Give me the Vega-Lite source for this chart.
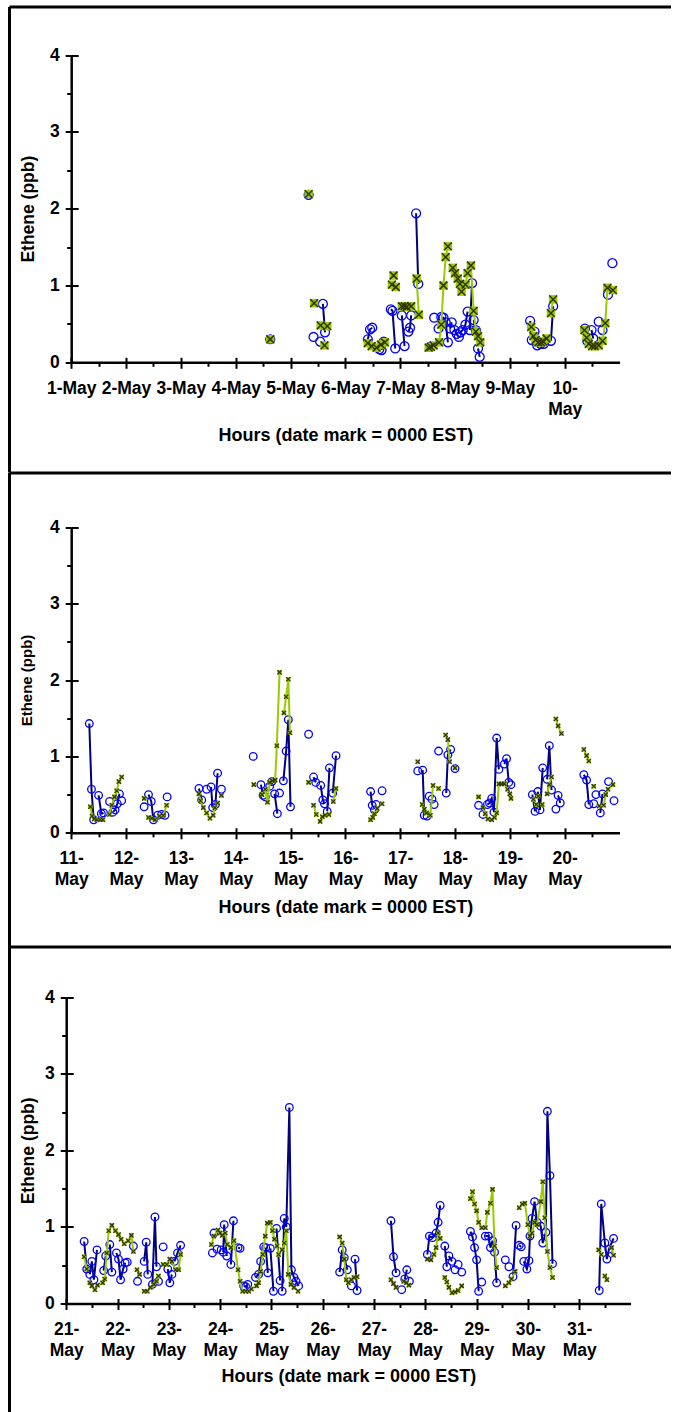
{
  "$schema": "https://vega.github.io/schema/vega-lite/v6.json",
  "padding": {"left": 9, "top": 6.5, "right": 0, "bottom": 0},
  "spacing": 0,
  "config": {
    "view": {"stroke": null},
    "font": "Liberation Sans",
    "axis": {
      "labelFont": "Liberation Sans", "labelFontSize": 17.5, "labelFontWeight": "bold", "labelColor": "black",
      "titleFont": "Liberation Sans", "titleFontSize": 18, "titleFontWeight": "bold", "titleColor": "black",
      "tickColor": "black", "tickWidth": 2, "domainColor": "black", "domainWidth": 2.5,
      "grid": false, "labelFlush": false, "labelOverlap": false
    }
  },
  "datasets": {
    "p1": [
      {"day":4.63,"ppb":0.30,"series":"A","seg":"a1"},
      {"day":5.33,"ppb":2.18,"series":"A","seg":"a2"},
      {"day":5.42,"ppb":0.33,"series":"A","seg":"a3"},
      {"day":5.54,"ppb":0.27,"series":"A","seg":"a4"},
      {"day":5.59,"ppb":0.76,"series":"A","seg":"a5"},
      {"day":5.63,"ppb":0.39,"series":"A","seg":"a5"},
      {"day":6.41,"ppb":0.30,"series":"A","seg":"a6"},
      {"day":6.45,"ppb":0.43,"series":"A","seg":"a6"},
      {"day":6.49,"ppb":0.45,"series":"A","seg":"a6"},
      {"day":6.62,"ppb":0.17,"series":"A","seg":"a7"},
      {"day":6.66,"ppb":0.16,"series":"A","seg":"a8"},
      {"day":6.70,"ppb":0.27,"series":"A","seg":"a8"},
      {"day":6.83,"ppb":0.69,"series":"A","seg":"a9"},
      {"day":6.86,"ppb":0.67,"series":"A","seg":"a9"},
      {"day":6.91,"ppb":0.18,"series":"A","seg":"a9"},
      {"day":7.03,"ppb":0.61,"series":"A","seg":"a10"},
      {"day":7.08,"ppb":0.21,"series":"A","seg":"a10"},
      {"day":7.15,"ppb":0.40,"series":"A","seg":"a11"},
      {"day":7.18,"ppb":0.45,"series":"A","seg":"a11"},
      {"day":7.20,"ppb":0.61,"series":"A","seg":"a11"},
      {"day":7.29,"ppb":1.94,"series":"A","seg":"a12"},
      {"day":7.33,"ppb":1.02,"series":"A","seg":"a12"},
      {"day":7.55,"ppb":0.20,"series":"A","seg":"a13"},
      {"day":7.62,"ppb":0.58,"series":"A","seg":"a14"},
      {"day":7.70,"ppb":0.44,"series":"A","seg":"a15"},
      {"day":7.75,"ppb":0.59,"series":"A","seg":"a16"},
      {"day":7.79,"ppb":0.58,"series":"A","seg":"a16"},
      {"day":7.83,"ppb":0.52,"series":"A","seg":"a16"},
      {"day":7.87,"ppb":0.26,"series":"A","seg":"a16"},
      {"day":7.91,"ppb":0.44,"series":"A","seg":"a17"},
      {"day":7.94,"ppb":0.52,"series":"A","seg":"a17"},
      {"day":7.99,"ppb":0.42,"series":"A","seg":"a18"},
      {"day":8.03,"ppb":0.37,"series":"A","seg":"a18"},
      {"day":8.07,"ppb":0.33,"series":"A","seg":"a18"},
      {"day":8.10,"ppb":0.39,"series":"A","seg":"a19"},
      {"day":8.14,"ppb":0.42,"series":"A","seg":"a19"},
      {"day":8.19,"ppb":0.49,"series":"A","seg":"a19"},
      {"day":8.23,"ppb":0.66,"series":"A","seg":"a19"},
      {"day":8.27,"ppb":0.42,"series":"A","seg":"a20"},
      {"day":8.31,"ppb":1.03,"series":"A","seg":"a20"},
      {"day":8.34,"ppb":0.55,"series":"A","seg":"a21"},
      {"day":8.38,"ppb":0.42,"series":"A","seg":"a21"},
      {"day":8.42,"ppb":0.18,"series":"A","seg":"a22"},
      {"day":8.45,"ppb":0.07,"series":"A","seg":"a22"},
      {"day":9.37,"ppb":0.54,"series":"A","seg":"a23"},
      {"day":9.40,"ppb":0.29,"series":"A","seg":"a23"},
      {"day":9.45,"ppb":0.40,"series":"A","seg":"a24"},
      {"day":9.50,"ppb":0.22,"series":"A","seg":"a25"},
      {"day":9.56,"ppb":0.24,"series":"A","seg":"a26"},
      {"day":9.62,"ppb":0.24,"series":"A","seg":"a27"},
      {"day":9.75,"ppb":0.28,"series":"A","seg":"a28"},
      {"day":9.79,"ppb":0.73,"series":"A","seg":"a28"},
      {"day":10.37,"ppb":0.44,"series":"A","seg":"a29"},
      {"day":10.41,"ppb":0.28,"series":"A","seg":"a29"},
      {"day":10.49,"ppb":0.42,"series":"A","seg":"a30"},
      {"day":10.52,"ppb":0.31,"series":"A","seg":"a30"},
      {"day":10.62,"ppb":0.53,"series":"A","seg":"a31"},
      {"day":10.69,"ppb":0.42,"series":"A","seg":"a32"},
      {"day":10.79,"ppb":0.88,"series":"A","seg":"a33"},
      {"day":10.87,"ppb":1.29,"series":"A","seg":"a34"},
      {"day":4.63,"ppb":0.30,"series":"B","seg":"b1"},
      {"day":5.33,"ppb":2.19,"series":"B","seg":"b2"},
      {"day":5.43,"ppb":0.77,"series":"B","seg":"b3"},
      {"day":5.55,"ppb":0.48,"series":"B","seg":"b4"},
      {"day":5.62,"ppb":0.22,"series":"B","seg":"b5"},
      {"day":5.67,"ppb":0.47,"series":"B","seg":"b6"},
      {"day":6.41,"ppb":0.25,"series":"B","seg":"b7"},
      {"day":6.48,"ppb":0.21,"series":"B","seg":"b7"},
      {"day":6.57,"ppb":0.19,"series":"B","seg":"b7"},
      {"day":6.65,"ppb":0.23,"series":"B","seg":"b7"},
      {"day":6.72,"ppb":0.26,"series":"B","seg":"b7"},
      {"day":6.85,"ppb":1.01,"series":"B","seg":"b8"},
      {"day":6.88,"ppb":1.13,"series":"B","seg":"b9"},
      {"day":6.92,"ppb":0.98,"series":"B","seg":"b10"},
      {"day":7.03,"ppb":0.73,"series":"B","seg":"b11"},
      {"day":7.08,"ppb":0.73,"series":"B","seg":"b11"},
      {"day":7.12,"ppb":0.72,"series":"B","seg":"b11"},
      {"day":7.20,"ppb":0.73,"series":"B","seg":"b11"},
      {"day":7.30,"ppb":1.09,"series":"B","seg":"b12"},
      {"day":7.34,"ppb":0.62,"series":"B","seg":"b12"},
      {"day":7.52,"ppb":0.19,"series":"B","seg":"b13"},
      {"day":7.56,"ppb":0.20,"series":"B","seg":"b13"},
      {"day":7.61,"ppb":0.22,"series":"B","seg":"b13"},
      {"day":7.71,"ppb":0.26,"series":"B","seg":"b14"},
      {"day":7.75,"ppb":0.49,"series":"B","seg":"b14"},
      {"day":7.79,"ppb":1.00,"series":"B","seg":"b14"},
      {"day":7.83,"ppb":1.37,"series":"B","seg":"b14"},
      {"day":7.87,"ppb":1.51,"series":"B","seg":"b14"},
      {"day":7.96,"ppb":1.23,"series":"B","seg":"b15"},
      {"day":8.00,"ppb":1.16,"series":"B","seg":"b15"},
      {"day":8.05,"ppb":1.09,"series":"B","seg":"b15"},
      {"day":8.09,"ppb":1.02,"series":"B","seg":"b15"},
      {"day":8.12,"ppb":0.92,"series":"B","seg":"b15"},
      {"day":8.19,"ppb":1.01,"series":"B","seg":"b15"},
      {"day":8.23,"ppb":1.16,"series":"B","seg":"b15"},
      {"day":8.29,"ppb":1.26,"series":"B","seg":"b15"},
      {"day":8.34,"ppb":0.67,"series":"B","seg":"b15"},
      {"day":8.38,"ppb":0.40,"series":"B","seg":"b15"},
      {"day":8.42,"ppb":0.34,"series":"B","seg":"b15"},
      {"day":8.46,"ppb":0.26,"series":"B","seg":"b15"},
      {"day":9.39,"ppb":0.46,"series":"B","seg":"b16"},
      {"day":9.43,"ppb":0.34,"series":"B","seg":"b16"},
      {"day":9.47,"ppb":0.29,"series":"B","seg":"b16"},
      {"day":9.52,"ppb":0.26,"series":"B","seg":"b16"},
      {"day":9.57,"ppb":0.26,"series":"B","seg":"b16"},
      {"day":9.61,"ppb":0.27,"series":"B","seg":"b16"},
      {"day":9.67,"ppb":0.31,"series":"B","seg":"b16"},
      {"day":9.75,"ppb":0.64,"series":"B","seg":"b17"},
      {"day":9.79,"ppb":0.82,"series":"B","seg":"b17"},
      {"day":10.36,"ppb":0.42,"series":"B","seg":"b18"},
      {"day":10.40,"ppb":0.32,"series":"B","seg":"b18"},
      {"day":10.44,"ppb":0.24,"series":"B","seg":"b18"},
      {"day":10.50,"ppb":0.21,"series":"B","seg":"b19"},
      {"day":10.55,"ppb":0.21,"series":"B","seg":"b19"},
      {"day":10.62,"ppb":0.22,"series":"B","seg":"b19"},
      {"day":10.69,"ppb":0.28,"series":"B","seg":"b20"},
      {"day":10.74,"ppb":0.51,"series":"B","seg":"b20"},
      {"day":10.78,"ppb":0.97,"series":"B","seg":"b20"},
      {"day":10.88,"ppb":0.94,"series":"B","seg":"b21"}
    ],
    "p2": [
      {"day":11.33,"ppb":1.43,"series":"A","seg":"a1"},
      {"day":11.37,"ppb":0.57,"series":"A","seg":"a1"},
      {"day":11.41,"ppb":0.17,"series":"A","seg":"a1"},
      {"day":11.50,"ppb":0.49,"series":"A","seg":"a2"},
      {"day":11.55,"ppb":0.25,"series":"A","seg":"a2"},
      {"day":11.59,"ppb":0.26,"series":"A","seg":"a2"},
      {"day":11.70,"ppb":0.41,"series":"A","seg":"a3"},
      {"day":11.76,"ppb":0.27,"series":"A","seg":"a4"},
      {"day":11.80,"ppb":0.30,"series":"A","seg":"a4"},
      {"day":11.84,"ppb":0.38,"series":"A","seg":"a4"},
      {"day":11.88,"ppb":0.51,"series":"A","seg":"a4"},
      {"day":11.92,"ppb":0.42,"series":"A","seg":"a5"},
      {"day":12.33,"ppb":0.34,"series":"A","seg":"a6"},
      {"day":12.41,"ppb":0.50,"series":"A","seg":"a7"},
      {"day":12.46,"ppb":0.41,"series":"A","seg":"a7"},
      {"day":12.50,"ppb":0.17,"series":"A","seg":"a7"},
      {"day":12.58,"ppb":0.23,"series":"A","seg":"a8"},
      {"day":12.65,"ppb":0.24,"series":"A","seg":"a9"},
      {"day":12.71,"ppb":0.23,"series":"A","seg":"a10"},
      {"day":12.75,"ppb":0.47,"series":"A","seg":"a11"},
      {"day":13.33,"ppb":0.58,"series":"A","seg":"a12"},
      {"day":13.38,"ppb":0.43,"series":"A","seg":"a12"},
      {"day":13.47,"ppb":0.57,"series":"A","seg":"a13"},
      {"day":13.55,"ppb":0.60,"series":"A","seg":"a14"},
      {"day":13.58,"ppb":0.33,"series":"A","seg":"a14"},
      {"day":13.63,"ppb":0.37,"series":"A","seg":"a15"},
      {"day":13.67,"ppb":0.78,"series":"A","seg":"a15"},
      {"day":13.74,"ppb":0.57,"series":"A","seg":"a16"},
      {"day":14.32,"ppb":1.00,"series":"A","seg":"a17"},
      {"day":14.46,"ppb":0.63,"series":"A","seg":"a18"},
      {"day":14.50,"ppb":0.49,"series":"A","seg":"a18"},
      {"day":14.54,"ppb":0.47,"series":"A","seg":"a19"},
      {"day":14.62,"ppb":0.61,"series":"A","seg":"a20"},
      {"day":14.66,"ppb":0.67,"series":"A","seg":"a21"},
      {"day":14.71,"ppb":0.51,"series":"A","seg":"a22"},
      {"day":14.76,"ppb":0.25,"series":"A","seg":"a22"},
      {"day":14.80,"ppb":0.52,"series":"A","seg":"a23"},
      {"day":14.87,"ppb":0.68,"series":"A","seg":"a24"},
      {"day":14.92,"ppb":1.07,"series":"A","seg":"a24"},
      {"day":14.96,"ppb":1.48,"series":"A","seg":"a24"},
      {"day":15.00,"ppb":0.34,"series":"A","seg":"a24"},
      {"day":15.33,"ppb":1.29,"series":"A","seg":"a25"},
      {"day":15.42,"ppb":0.73,"series":"A","seg":"a26"},
      {"day":15.46,"ppb":0.66,"series":"A","seg":"a26"},
      {"day":15.55,"ppb":0.62,"series":"A","seg":"a27"},
      {"day":15.59,"ppb":0.43,"series":"A","seg":"a27"},
      {"day":15.62,"ppb":0.38,"series":"A","seg":"a27"},
      {"day":15.67,"ppb":0.28,"series":"A","seg":"a28"},
      {"day":15.71,"ppb":0.85,"series":"A","seg":"a28"},
      {"day":15.77,"ppb":0.52,"series":"A","seg":"a29"},
      {"day":15.83,"ppb":1.01,"series":"A","seg":"a29"},
      {"day":16.46,"ppb":0.54,"series":"A","seg":"a30"},
      {"day":16.49,"ppb":0.36,"series":"A","seg":"a30"},
      {"day":16.53,"ppb":0.30,"series":"A","seg":"a31"},
      {"day":16.56,"ppb":0.37,"series":"A","seg":"a32"},
      {"day":16.67,"ppb":0.55,"series":"A","seg":"a33"},
      {"day":17.32,"ppb":0.81,"series":"A","seg":"a34"},
      {"day":17.41,"ppb":0.82,"series":"A","seg":"a35"},
      {"day":17.44,"ppb":0.23,"series":"A","seg":"a35"},
      {"day":17.49,"ppb":0.22,"series":"A","seg":"a36"},
      {"day":17.53,"ppb":0.48,"series":"A","seg":"a37"},
      {"day":17.58,"ppb":0.44,"series":"A","seg":"a38"},
      {"day":17.62,"ppb":0.37,"series":"A","seg":"a39"},
      {"day":17.70,"ppb":1.07,"series":"A","seg":"a40"},
      {"day":17.84,"ppb":0.52,"series":"A","seg":"a41"},
      {"day":17.87,"ppb":1.02,"series":"A","seg":"a41"},
      {"day":17.92,"ppb":1.09,"series":"A","seg":"a41"},
      {"day":18.00,"ppb":0.84,"series":"A","seg":"a42"},
      {"day":18.43,"ppb":0.36,"series":"A","seg":"a43"},
      {"day":18.51,"ppb":0.24,"series":"A","seg":"a44"},
      {"day":18.59,"ppb":0.37,"series":"A","seg":"a45"},
      {"day":18.63,"ppb":0.39,"series":"A","seg":"a45"},
      {"day":18.67,"ppb":0.45,"series":"A","seg":"a45"},
      {"day":18.71,"ppb":0.27,"series":"A","seg":"a45"},
      {"day":18.76,"ppb":1.24,"series":"A","seg":"a45"},
      {"day":18.80,"ppb":0.83,"series":"A","seg":"a45"},
      {"day":18.90,"ppb":0.90,"series":"A","seg":"a47"},
      {"day":18.94,"ppb":0.97,"series":"A","seg":"a47"},
      {"day":18.98,"ppb":0.66,"series":"A","seg":"a47"},
      {"day":19.02,"ppb":0.63,"series":"A","seg":"a48"},
      {"day":19.41,"ppb":0.50,"series":"A","seg":"a49"},
      {"day":19.46,"ppb":0.28,"series":"A","seg":"a49"},
      {"day":19.51,"ppb":0.54,"series":"A","seg":"a50"},
      {"day":19.55,"ppb":0.30,"series":"A","seg":"a50"},
      {"day":19.60,"ppb":0.85,"series":"A","seg":"a50"},
      {"day":19.68,"ppb":0.70,"series":"A","seg":"a51"},
      {"day":19.72,"ppb":1.14,"series":"A","seg":"a51"},
      {"day":19.76,"ppb":0.56,"series":"A","seg":"a51"},
      {"day":19.84,"ppb":0.31,"series":"A","seg":"a52"},
      {"day":19.88,"ppb":0.49,"series":"A","seg":"a53"},
      {"day":19.92,"ppb":0.39,"series":"A","seg":"a53"},
      {"day":20.35,"ppb":0.76,"series":"A","seg":"a54"},
      {"day":20.40,"ppb":0.69,"series":"A","seg":"a54"},
      {"day":20.44,"ppb":0.37,"series":"A","seg":"a54"},
      {"day":20.53,"ppb":0.38,"series":"A","seg":"a55"},
      {"day":20.57,"ppb":0.50,"series":"A","seg":"a56"},
      {"day":20.65,"ppb":0.26,"series":"A","seg":"a57"},
      {"day":20.69,"ppb":0.51,"series":"A","seg":"a57"},
      {"day":20.80,"ppb":0.67,"series":"A","seg":"a58"},
      {"day":20.90,"ppb":0.42,"series":"A","seg":"a59"},
      {"day":11.35,"ppb":0.34,"series":"B","seg":"b1"},
      {"day":11.38,"ppb":0.22,"series":"B","seg":"b1"},
      {"day":11.42,"ppb":0.18,"series":"B","seg":"b1"},
      {"day":11.47,"ppb":0.17,"series":"B","seg":"b1"},
      {"day":11.53,"ppb":0.17,"series":"B","seg":"b1"},
      {"day":11.58,"ppb":0.17,"series":"B","seg":"b1"},
      {"day":11.70,"ppb":0.24,"series":"B","seg":"b2"},
      {"day":11.74,"ppb":0.36,"series":"B","seg":"b2"},
      {"day":11.79,"ppb":0.47,"series":"B","seg":"b2"},
      {"day":11.83,"ppb":0.55,"series":"B","seg":"b2"},
      {"day":11.87,"ppb":0.67,"series":"B","seg":"b2"},
      {"day":11.92,"ppb":0.73,"series":"B","seg":"b2"},
      {"day":12.33,"ppb":0.45,"series":"B","seg":"b3"},
      {"day":12.41,"ppb":0.20,"series":"B","seg":"b4"},
      {"day":12.47,"ppb":0.19,"series":"B","seg":"b4"},
      {"day":12.53,"ppb":0.17,"series":"B","seg":"b4"},
      {"day":12.61,"ppb":0.22,"series":"B","seg":"b4"},
      {"day":12.68,"ppb":0.23,"series":"B","seg":"b4"},
      {"day":12.74,"ppb":0.36,"series":"B","seg":"b4"},
      {"day":13.33,"ppb":0.51,"series":"B","seg":"b5"},
      {"day":13.36,"ppb":0.42,"series":"B","seg":"b5"},
      {"day":13.41,"ppb":0.33,"series":"B","seg":"b5"},
      {"day":13.47,"ppb":0.26,"series":"B","seg":"b5"},
      {"day":13.53,"ppb":0.19,"series":"B","seg":"b5"},
      {"day":13.59,"ppb":0.23,"series":"B","seg":"b5"},
      {"day":13.62,"ppb":0.33,"series":"B","seg":"b5"},
      {"day":13.67,"ppb":0.39,"series":"B","seg":"b5"},
      {"day":13.74,"ppb":0.49,"series":"B","seg":"b6"},
      {"day":14.33,"ppb":0.63,"series":"B","seg":"b7"},
      {"day":14.48,"ppb":0.50,"series":"B","seg":"b8"},
      {"day":14.54,"ppb":0.57,"series":"B","seg":"b8"},
      {"day":14.58,"ppb":0.40,"series":"B","seg":"b8"},
      {"day":14.62,"ppb":0.66,"series":"B","seg":"b8"},
      {"day":14.67,"ppb":0.68,"series":"B","seg":"b9"},
      {"day":14.72,"ppb":0.69,"series":"B","seg":"b10"},
      {"day":14.75,"ppb":1.14,"series":"B","seg":"b10"},
      {"day":14.80,"ppb":2.10,"series":"B","seg":"b10"},
      {"day":14.88,"ppb":1.57,"series":"B","seg":"b11"},
      {"day":14.92,"ppb":1.78,"series":"B","seg":"b11"},
      {"day":14.96,"ppb":2.01,"series":"B","seg":"b11"},
      {"day":14.99,"ppb":1.31,"series":"B","seg":"b11"},
      {"day":15.33,"ppb":0.66,"series":"B","seg":"b12"},
      {"day":15.42,"ppb":0.36,"series":"B","seg":"b13"},
      {"day":15.47,"ppb":0.24,"series":"B","seg":"b13"},
      {"day":15.54,"ppb":0.15,"series":"B","seg":"b14"},
      {"day":15.58,"ppb":0.21,"series":"B","seg":"b14"},
      {"day":15.63,"ppb":0.23,"series":"B","seg":"b14"},
      {"day":15.70,"ppb":0.24,"series":"B","seg":"b14"},
      {"day":15.78,"ppb":0.41,"series":"B","seg":"b15"},
      {"day":15.83,"ppb":0.58,"series":"B","seg":"b15"},
      {"day":16.46,"ppb":0.17,"series":"B","seg":"b16"},
      {"day":16.50,"ppb":0.20,"series":"B","seg":"b16"},
      {"day":16.53,"ppb":0.25,"series":"B","seg":"b16"},
      {"day":16.58,"ppb":0.32,"series":"B","seg":"b16"},
      {"day":16.67,"ppb":0.38,"series":"B","seg":"b17"},
      {"day":17.32,"ppb":0.93,"series":"B","seg":"b18"},
      {"day":17.40,"ppb":0.37,"series":"B","seg":"b19"},
      {"day":17.44,"ppb":0.31,"series":"B","seg":"b19"},
      {"day":17.48,"ppb":0.26,"series":"B","seg":"b19"},
      {"day":17.55,"ppb":0.23,"series":"B","seg":"b19"},
      {"day":17.60,"ppb":0.62,"series":"B","seg":"b19"},
      {"day":17.70,"ppb":0.58,"series":"B","seg":"b20"},
      {"day":17.83,"ppb":1.28,"series":"B","seg":"b21"},
      {"day":17.87,"ppb":1.22,"series":"B","seg":"b21"},
      {"day":17.90,"ppb":0.93,"series":"B","seg":"b21"},
      {"day":18.00,"ppb":0.85,"series":"B","seg":"b22"},
      {"day":18.43,"ppb":0.47,"series":"B","seg":"b23"},
      {"day":18.51,"ppb":0.33,"series":"B","seg":"b24"},
      {"day":18.55,"ppb":0.25,"series":"B","seg":"b24"},
      {"day":18.60,"ppb":0.18,"series":"B","seg":"b24"},
      {"day":18.67,"ppb":0.17,"series":"B","seg":"b24"},
      {"day":18.72,"ppb":0.20,"series":"B","seg":"b24"},
      {"day":18.76,"ppb":0.26,"series":"B","seg":"b24"},
      {"day":18.80,"ppb":0.64,"series":"B","seg":"b24"},
      {"day":18.85,"ppb":0.64,"series":"B","seg":"b24"},
      {"day":18.90,"ppb":0.64,"series":"B","seg":"b24"},
      {"day":18.96,"ppb":0.57,"series":"B","seg":"b24"},
      {"day":19.00,"ppb":0.51,"series":"B","seg":"b24"},
      {"day":19.02,"ppb":0.45,"series":"B","seg":"b24"},
      {"day":19.43,"ppb":0.44,"series":"B","seg":"b25"},
      {"day":19.48,"ppb":0.37,"series":"B","seg":"b25"},
      {"day":19.52,"ppb":0.48,"series":"B","seg":"b26"},
      {"day":19.59,"ppb":0.37,"series":"B","seg":"b27"},
      {"day":19.68,"ppb":0.51,"series":"B","seg":"b28"},
      {"day":19.72,"ppb":0.63,"series":"B","seg":"b28"},
      {"day":19.76,"ppb":0.73,"series":"B","seg":"b28"},
      {"day":19.84,"ppb":1.49,"series":"B","seg":"b29"},
      {"day":19.88,"ppb":1.40,"series":"B","seg":"b29"},
      {"day":19.94,"ppb":1.30,"series":"B","seg":"b29"},
      {"day":20.35,"ppb":1.09,"series":"B","seg":"b30"},
      {"day":20.40,"ppb":1.01,"series":"B","seg":"b30"},
      {"day":20.44,"ppb":0.94,"series":"B","seg":"b30"},
      {"day":20.53,"ppb":0.61,"series":"B","seg":"b31"},
      {"day":20.63,"ppb":0.35,"series":"B","seg":"b32"},
      {"day":20.71,"ppb":0.36,"series":"B","seg":"b32"},
      {"day":20.75,"ppb":0.50,"series":"B","seg":"b32"},
      {"day":20.79,"ppb":0.57,"series":"B","seg":"b32"},
      {"day":20.88,"ppb":0.63,"series":"B","seg":"b32"}
    ],
    "p3": [
      {"day":21.35,"ppb":0.81,"series":"A","seg":"a1"},
      {"day":21.40,"ppb":0.45,"series":"A","seg":"a1"},
      {"day":21.46,"ppb":0.38,"series":"A","seg":"a2"},
      {"day":21.50,"ppb":0.55,"series":"A","seg":"a2"},
      {"day":21.54,"ppb":0.31,"series":"A","seg":"a2"},
      {"day":21.60,"ppb":0.70,"series":"A","seg":"a2"},
      {"day":21.73,"ppb":0.43,"series":"A","seg":"a3"},
      {"day":21.77,"ppb":0.62,"series":"A","seg":"a3"},
      {"day":21.85,"ppb":0.77,"series":"A","seg":"a4"},
      {"day":21.89,"ppb":0.41,"series":"A","seg":"a4"},
      {"day":21.98,"ppb":0.66,"series":"A","seg":"a5"},
      {"day":22.02,"ppb":0.58,"series":"A","seg":"a5"},
      {"day":22.06,"ppb":0.31,"series":"A","seg":"a5"},
      {"day":22.11,"ppb":0.45,"series":"A","seg":"a5"},
      {"day":22.15,"ppb":0.53,"series":"A","seg":"a5"},
      {"day":22.19,"ppb":0.54,"series":"A","seg":"a6"},
      {"day":22.31,"ppb":0.75,"series":"A","seg":"a7"},
      {"day":22.39,"ppb":0.29,"series":"A","seg":"a8"},
      {"day":22.52,"ppb":0.55,"series":"A","seg":"a9"},
      {"day":22.56,"ppb":0.80,"series":"A","seg":"a9"},
      {"day":22.59,"ppb":0.38,"series":"A","seg":"a9"},
      {"day":22.68,"ppb":0.25,"series":"A","seg":"a10"},
      {"day":22.73,"ppb":1.13,"series":"A","seg":"a10"},
      {"day":22.76,"ppb":0.48,"series":"A","seg":"a10"},
      {"day":22.80,"ppb":0.29,"series":"A","seg":"a11"},
      {"day":22.89,"ppb":0.74,"series":"A","seg":"a12"},
      {"day":22.98,"ppb":0.45,"series":"A","seg":"a13"},
      {"day":23.02,"ppb":0.27,"series":"A","seg":"a13"},
      {"day":23.06,"ppb":0.38,"series":"A","seg":"a13"},
      {"day":23.11,"ppb":0.55,"series":"A","seg":"a14"},
      {"day":23.17,"ppb":0.66,"series":"A","seg":"a14"},
      {"day":23.23,"ppb":0.76,"series":"A","seg":"a14"},
      {"day":23.85,"ppb":0.66,"series":"A","seg":"a15"},
      {"day":23.88,"ppb":0.92,"series":"A","seg":"a16"},
      {"day":23.94,"ppb":0.71,"series":"A","seg":"a17"},
      {"day":24.02,"ppb":0.70,"series":"A","seg":"a18"},
      {"day":24.06,"ppb":0.67,"series":"A","seg":"a19"},
      {"day":24.08,"ppb":1.03,"series":"A","seg":"a19"},
      {"day":24.13,"ppb":0.62,"series":"A","seg":"a19"},
      {"day":24.21,"ppb":0.51,"series":"A","seg":"a20"},
      {"day":24.26,"ppb":1.08,"series":"A","seg":"a20"},
      {"day":24.35,"ppb":0.73,"series":"A","seg":"a21"},
      {"day":24.39,"ppb":0.72,"series":"A","seg":"a21"},
      {"day":24.46,"ppb":0.23,"series":"A","seg":"a22"},
      {"day":24.50,"ppb":0.22,"series":"A","seg":"a22"},
      {"day":24.54,"ppb":0.25,"series":"A","seg":"a22"},
      {"day":24.69,"ppb":0.34,"series":"A","seg":"a23"},
      {"day":24.75,"ppb":0.38,"series":"A","seg":"a23"},
      {"day":24.79,"ppb":0.55,"series":"A","seg":"a23"},
      {"day":24.85,"ppb":0.74,"series":"A","seg":"a23"},
      {"day":24.89,"ppb":0.73,"series":"A","seg":"a24"},
      {"day":24.93,"ppb":0.40,"series":"A","seg":"a24"},
      {"day":24.98,"ppb":0.72,"series":"A","seg":"a25"},
      {"day":25.04,"ppb":0.16,"series":"A","seg":"a25"},
      {"day":25.10,"ppb":0.98,"series":"A","seg":"a26"},
      {"day":25.17,"ppb":0.30,"series":"A","seg":"a26"},
      {"day":25.21,"ppb":0.16,"series":"A","seg":"a27"},
      {"day":25.25,"ppb":1.11,"series":"A","seg":"a27"},
      {"day":25.29,"ppb":1.00,"series":"A","seg":"a27"},
      {"day":25.35,"ppb":2.56,"series":"A","seg":"a27"},
      {"day":25.39,"ppb":0.44,"series":"A","seg":"a27"},
      {"day":25.44,"ppb":0.34,"series":"A","seg":"a27"},
      {"day":25.48,"ppb":0.29,"series":"A","seg":"a27"},
      {"day":25.53,"ppb":0.23,"series":"A","seg":"a27"},
      {"day":26.33,"ppb":0.41,"series":"A","seg":"a28"},
      {"day":26.38,"ppb":0.70,"series":"A","seg":"a28"},
      {"day":26.42,"ppb":0.60,"series":"A","seg":"a28"},
      {"day":26.48,"ppb":0.44,"series":"A","seg":"a28"},
      {"day":26.56,"ppb":0.23,"series":"A","seg":"a29"},
      {"day":26.63,"ppb":0.58,"series":"A","seg":"a30"},
      {"day":26.67,"ppb":0.17,"series":"A","seg":"a30"},
      {"day":27.33,"ppb":1.08,"series":"A","seg":"a31"},
      {"day":27.38,"ppb":0.61,"series":"A","seg":"a31"},
      {"day":27.43,"ppb":0.40,"series":"A","seg":"a31"},
      {"day":27.54,"ppb":0.18,"series":"A","seg":"a32"},
      {"day":27.60,"ppb":0.32,"series":"A","seg":"a33"},
      {"day":27.64,"ppb":0.44,"series":"A","seg":"a33"},
      {"day":27.69,"ppb":0.29,"series":"A","seg":"a34"},
      {"day":28.04,"ppb":0.64,"series":"A","seg":"a35"},
      {"day":28.08,"ppb":0.88,"series":"A","seg":"a35"},
      {"day":28.14,"ppb":0.86,"series":"A","seg":"a35"},
      {"day":28.21,"ppb":0.92,"series":"A","seg":"a35"},
      {"day":28.25,"ppb":1.06,"series":"A","seg":"a35"},
      {"day":28.29,"ppb":1.28,"series":"A","seg":"a35"},
      {"day":28.38,"ppb":0.75,"series":"A","seg":"a36"},
      {"day":28.42,"ppb":0.48,"series":"A","seg":"a36"},
      {"day":28.46,"ppb":0.62,"series":"A","seg":"a37"},
      {"day":28.52,"ppb":0.55,"series":"A","seg":"a37"},
      {"day":28.58,"ppb":0.44,"series":"A","seg":"a38"},
      {"day":28.64,"ppb":0.51,"series":"A","seg":"a39"},
      {"day":28.71,"ppb":0.41,"series":"A","seg":"a40"},
      {"day":28.88,"ppb":0.94,"series":"A","seg":"a41"},
      {"day":28.92,"ppb":0.87,"series":"A","seg":"a41"},
      {"day":28.96,"ppb":0.73,"series":"A","seg":"a41"},
      {"day":29.00,"ppb":0.57,"series":"A","seg":"a41"},
      {"day":29.04,"ppb":0.16,"series":"A","seg":"a41"},
      {"day":29.10,"ppb":0.28,"series":"A","seg":"a42"},
      {"day":29.17,"ppb":0.88,"series":"A","seg":"a43"},
      {"day":29.23,"ppb":0.88,"series":"A","seg":"a43"},
      {"day":29.27,"ppb":0.73,"series":"A","seg":"a43"},
      {"day":29.31,"ppb":0.82,"series":"A","seg":"a43"},
      {"day":29.35,"ppb":0.67,"series":"A","seg":"a43"},
      {"day":29.39,"ppb":0.27,"series":"A","seg":"a43"},
      {"day":29.56,"ppb":0.57,"series":"A","seg":"a44"},
      {"day":29.63,"ppb":0.48,"series":"A","seg":"a45"},
      {"day":29.71,"ppb":0.35,"series":"A","seg":"a46"},
      {"day":29.77,"ppb":1.02,"series":"A","seg":"a46"},
      {"day":29.83,"ppb":0.76,"series":"A","seg":"a47"},
      {"day":29.87,"ppb":0.74,"series":"A","seg":"a47"},
      {"day":29.92,"ppb":0.55,"series":"A","seg":"a48"},
      {"day":29.98,"ppb":0.45,"series":"A","seg":"a48"},
      {"day":30.02,"ppb":0.56,"series":"A","seg":"a48"},
      {"day":30.04,"ppb":0.88,"series":"A","seg":"a48"},
      {"day":30.08,"ppb":1.11,"series":"A","seg":"a48"},
      {"day":30.13,"ppb":1.33,"series":"A","seg":"a48"},
      {"day":30.18,"ppb":1.06,"series":"A","seg":"a48"},
      {"day":30.25,"ppb":1.01,"series":"A","seg":"a48"},
      {"day":30.29,"ppb":0.79,"series":"A","seg":"a48"},
      {"day":30.35,"ppb":0.93,"series":"A","seg":"a48"},
      {"day":30.38,"ppb":2.51,"series":"A","seg":"a48"},
      {"day":30.43,"ppb":1.67,"series":"A","seg":"a48"},
      {"day":30.48,"ppb":0.52,"series":"A","seg":"a48"},
      {"day":31.39,"ppb":0.17,"series":"A","seg":"a49"},
      {"day":31.43,"ppb":1.30,"series":"A","seg":"a49"},
      {"day":31.50,"ppb":0.79,"series":"A","seg":"a49"},
      {"day":31.54,"ppb":0.58,"series":"A","seg":"a49"},
      {"day":31.58,"ppb":0.71,"series":"A","seg":"a49"},
      {"day":31.67,"ppb":0.85,"series":"A","seg":"a49"},
      {"day":21.35,"ppb":0.61,"series":"B","seg":"b1"},
      {"day":21.40,"ppb":0.45,"series":"B","seg":"b1"},
      {"day":21.46,"ppb":0.27,"series":"B","seg":"b2"},
      {"day":21.50,"ppb":0.23,"series":"B","seg":"b2"},
      {"day":21.56,"ppb":0.18,"series":"B","seg":"b2"},
      {"day":21.61,"ppb":0.24,"series":"B","seg":"b2"},
      {"day":21.71,"ppb":0.27,"series":"B","seg":"b3"},
      {"day":21.75,"ppb":0.32,"series":"B","seg":"b3"},
      {"day":21.79,"ppb":0.66,"series":"B","seg":"b3"},
      {"day":21.83,"ppb":0.95,"series":"B","seg":"b3"},
      {"day":21.89,"ppb":1.02,"series":"B","seg":"b3"},
      {"day":21.96,"ppb":0.95,"series":"B","seg":"b3"},
      {"day":22.02,"ppb":0.90,"series":"B","seg":"b3"},
      {"day":22.07,"ppb":0.84,"series":"B","seg":"b3"},
      {"day":22.13,"ppb":0.78,"series":"B","seg":"b3"},
      {"day":22.21,"ppb":0.82,"series":"B","seg":"b3"},
      {"day":22.27,"ppb":0.89,"series":"B","seg":"b3"},
      {"day":22.31,"ppb":0.68,"series":"B","seg":"b3"},
      {"day":22.38,"ppb":0.44,"series":"B","seg":"b4"},
      {"day":22.43,"ppb":0.38,"series":"B","seg":"b4"},
      {"day":22.52,"ppb":0.16,"series":"B","seg":"b5"},
      {"day":22.58,"ppb":0.16,"series":"B","seg":"b5"},
      {"day":22.64,"ppb":0.21,"series":"B","seg":"b5"},
      {"day":22.71,"ppb":0.25,"series":"B","seg":"b5"},
      {"day":22.76,"ppb":0.29,"series":"B","seg":"b5"},
      {"day":22.80,"ppb":0.36,"series":"B","seg":"b5"},
      {"day":22.89,"ppb":0.51,"series":"B","seg":"b6"},
      {"day":22.96,"ppb":0.51,"series":"B","seg":"b6"},
      {"day":23.02,"ppb":0.58,"series":"B","seg":"b6"},
      {"day":23.06,"ppb":0.55,"series":"B","seg":"b6"},
      {"day":23.13,"ppb":0.44,"series":"B","seg":"b6"},
      {"day":23.19,"ppb":0.44,"series":"B","seg":"b6"},
      {"day":23.23,"ppb":0.64,"series":"B","seg":"b6"},
      {"day":23.83,"ppb":0.77,"series":"B","seg":"b7"},
      {"day":23.88,"ppb":0.88,"series":"B","seg":"b7"},
      {"day":23.96,"ppb":0.96,"series":"B","seg":"b7"},
      {"day":24.00,"ppb":0.92,"series":"B","seg":"b7"},
      {"day":24.04,"ppb":0.89,"series":"B","seg":"b7"},
      {"day":24.10,"ppb":0.92,"series":"B","seg":"b7"},
      {"day":24.14,"ppb":0.77,"series":"B","seg":"b7"},
      {"day":24.21,"ppb":0.73,"series":"B","seg":"b7"},
      {"day":24.27,"ppb":0.82,"series":"B","seg":"b7"},
      {"day":24.35,"ppb":0.44,"series":"B","seg":"b7"},
      {"day":24.39,"ppb":0.29,"series":"B","seg":"b7"},
      {"day":24.44,"ppb":0.16,"series":"B","seg":"b7"},
      {"day":24.50,"ppb":0.16,"series":"B","seg":"b7"},
      {"day":24.56,"ppb":0.16,"series":"B","seg":"b7"},
      {"day":24.61,"ppb":0.19,"series":"B","seg":"b7"},
      {"day":24.71,"ppb":0.23,"series":"B","seg":"b8"},
      {"day":24.75,"ppb":0.27,"series":"B","seg":"b8"},
      {"day":24.79,"ppb":0.42,"series":"B","seg":"b8"},
      {"day":24.83,"ppb":0.64,"series":"B","seg":"b8"},
      {"day":24.88,"ppb":0.88,"series":"B","seg":"b8"},
      {"day":24.92,"ppb":1.05,"series":"B","seg":"b8"},
      {"day":24.98,"ppb":1.06,"series":"B","seg":"b8"},
      {"day":25.02,"ppb":0.95,"series":"B","seg":"b8"},
      {"day":25.06,"ppb":0.84,"series":"B","seg":"b8"},
      {"day":25.11,"ppb":0.75,"series":"B","seg":"b8"},
      {"day":25.14,"ppb":0.64,"series":"B","seg":"b8"},
      {"day":25.21,"ppb":0.70,"series":"B","seg":"b8"},
      {"day":25.25,"ppb":0.79,"series":"B","seg":"b8"},
      {"day":25.29,"ppb":0.95,"series":"B","seg":"b8"},
      {"day":25.33,"ppb":0.38,"series":"B","seg":"b8"},
      {"day":25.38,"ppb":0.25,"series":"B","seg":"b8"},
      {"day":25.44,"ppb":0.21,"series":"B","seg":"b8"},
      {"day":25.52,"ppb":0.16,"series":"B","seg":"b8"},
      {"day":26.33,"ppb":0.87,"series":"B","seg":"b9"},
      {"day":26.38,"ppb":0.79,"series":"B","seg":"b9"},
      {"day":26.42,"ppb":0.58,"series":"B","seg":"b9"},
      {"day":26.46,"ppb":0.31,"series":"B","seg":"b9"},
      {"day":26.50,"ppb":0.27,"series":"B","seg":"b9"},
      {"day":26.56,"ppb":0.31,"series":"B","seg":"b9"},
      {"day":26.61,"ppb":0.34,"series":"B","seg":"b9"},
      {"day":26.67,"ppb":0.35,"series":"B","seg":"b9"},
      {"day":27.33,"ppb":0.31,"series":"B","seg":"b10"},
      {"day":27.38,"ppb":0.26,"series":"B","seg":"b10"},
      {"day":27.43,"ppb":0.21,"series":"B","seg":"b10"},
      {"day":27.58,"ppb":0.29,"series":"B","seg":"b11"},
      {"day":27.63,"ppb":0.27,"series":"B","seg":"b11"},
      {"day":27.68,"ppb":0.24,"series":"B","seg":"b11"},
      {"day":28.04,"ppb":0.58,"series":"B","seg":"b12"},
      {"day":28.11,"ppb":0.57,"series":"B","seg":"b12"},
      {"day":28.17,"ppb":0.64,"series":"B","seg":"b12"},
      {"day":28.21,"ppb":0.73,"series":"B","seg":"b12"},
      {"day":28.25,"ppb":0.92,"series":"B","seg":"b12"},
      {"day":28.29,"ppb":0.85,"series":"B","seg":"b12"},
      {"day":28.38,"ppb":0.34,"series":"B","seg":"b13"},
      {"day":28.42,"ppb":0.28,"series":"B","seg":"b13"},
      {"day":28.46,"ppb":0.21,"series":"B","seg":"b13"},
      {"day":28.52,"ppb":0.14,"series":"B","seg":"b13"},
      {"day":28.58,"ppb":0.15,"series":"B","seg":"b13"},
      {"day":28.64,"ppb":0.17,"series":"B","seg":"b13"},
      {"day":28.71,"ppb":0.23,"series":"B","seg":"b13"},
      {"day":28.88,"ppb":1.37,"series":"B","seg":"b14"},
      {"day":28.92,"ppb":1.46,"series":"B","seg":"b14"},
      {"day":28.96,"ppb":1.30,"series":"B","seg":"b14"},
      {"day":29.00,"ppb":1.21,"series":"B","seg":"b14"},
      {"day":29.04,"ppb":1.06,"series":"B","seg":"b14"},
      {"day":29.10,"ppb":0.99,"series":"B","seg":"b14"},
      {"day":29.17,"ppb":0.99,"series":"B","seg":"b14"},
      {"day":29.21,"ppb":1.19,"series":"B","seg":"b14"},
      {"day":29.27,"ppb":1.31,"series":"B","seg":"b14"},
      {"day":29.31,"ppb":1.49,"series":"B","seg":"b14"},
      {"day":29.35,"ppb":0.75,"series":"B","seg":"b14"},
      {"day":29.39,"ppb":0.47,"series":"B","seg":"b14"},
      {"day":29.56,"ppb":0.23,"series":"B","seg":"b15"},
      {"day":29.63,"ppb":0.27,"series":"B","seg":"b15"},
      {"day":29.68,"ppb":0.32,"series":"B","seg":"b15"},
      {"day":29.75,"ppb":0.42,"series":"B","seg":"b15"},
      {"day":29.83,"ppb":1.25,"series":"B","seg":"b16"},
      {"day":29.89,"ppb":1.30,"series":"B","seg":"b16"},
      {"day":29.94,"ppb":1.31,"series":"B","seg":"b16"},
      {"day":30.00,"ppb":1.03,"series":"B","seg":"b16"},
      {"day":30.04,"ppb":0.88,"series":"B","seg":"b16"},
      {"day":30.08,"ppb":0.92,"series":"B","seg":"b16"},
      {"day":30.13,"ppb":1.06,"series":"B","seg":"b16"},
      {"day":30.18,"ppb":1.03,"series":"B","seg":"b16"},
      {"day":30.25,"ppb":1.33,"series":"B","seg":"b16"},
      {"day":30.29,"ppb":1.59,"series":"B","seg":"b16"},
      {"day":30.33,"ppb":1.12,"series":"B","seg":"b16"},
      {"day":30.38,"ppb":0.68,"series":"B","seg":"b16"},
      {"day":30.43,"ppb":0.47,"series":"B","seg":"b16"},
      {"day":30.48,"ppb":0.34,"series":"B","seg":"b16"},
      {"day":31.38,"ppb":0.70,"series":"B","seg":"b17"},
      {"day":31.43,"ppb":0.64,"series":"B","seg":"b17"},
      {"day":31.50,"ppb":0.36,"series":"B","seg":"b18"},
      {"day":31.54,"ppb":0.31,"series":"B","seg":"b18"},
      {"day":31.63,"ppb":0.73,"series":"B","seg":"b19"},
      {"day":31.67,"ppb":0.63,"series":"B","seg":"b19"}
    ]
  },
  "vconcat": [
    {
      "width": 662, "height": 465.5,
      "data": {"name": "p1"},
      "layer": [
        {
          "transform": [{"filter": "false"}],
          "mark": {"type": "point", "opacity": 0},
          "encoding": {
            "x": {"field": "day", "type": "quantitative", "scale": {"domain": [0, 1], "nice": false, "zero": false},
              "axis": {"orient": "top", "offset": 0, "domainWidth": 3, "ticks": false, "labels": false, "title": null}},
            "y": {"field": "ppb", "type": "quantitative", "scale": {"domain": [0, 1], "nice": false, "zero": false},
              "axis": {"orient": "left", "offset": 0, "domainWidth": 3, "ticks": false, "labels": false, "title": null}}
          }
        },
        {
          "transform": [{"filter": "datum.series == 'A'"}],
          "mark": {"type": "line", "color": "#000080", "strokeWidth": 2},
          "encoding": {
            "x": {"field": "day", "type": "quantitative", "scale": {"domain": [1, 11], "range": [62.2, 610.5], "nice": false, "zero": false},
              "axis": {"orient": "bottom", "offset": -109.7, "values": [1,1.5,2,2.5,3,3.5,4,4.5,5,5.5,6,6.5,7,7.5,8,8.5,9,9.5,10,10.5],
                "labelExpr": "datum.value % 1 != 0 ? '' : (datum.value >= 10 ? [datum.value + '-', 'May'] : datum.value + '-May')",
                "tickSize": {"condition": {"test": "datum.value % 1 == 0", "value": 6}, "value": 4},
                "labelPadding": 11, "labelLineHeight": 21,
                "title": "Hours (date mark = 0000 EST)", "titleBaseline": "alphabetic", "titleY": 78}},
            "y": {"field": "ppb", "type": "quantitative", "scale": {"domain": [0, 4], "range": [355.8, 48.5], "nice": false},
              "axis": {"orient": "left", "offset": -62.2, "values": [0,0.5,1,1.5,2,2.5,3,3.5,4],
                "labelExpr": "datum.value % 1 == 0 ? '' + datum.value : ''",
                "tickSize": {"condition": {"test": "datum.value % 1 == 0", "value": 6}, "value": 4.5},
                "labelPadding": 6, "title": "Ethene (ppb)", "titleFontSize": 17.5, "titleX": -42.7, "titleBaseline": "middle"}},
            "detail": {"field": "seg"}
          }
        },
        {
          "transform": [{"filter": "datum.series == 'A'"}],
          "mark": {"type": "point", "shape": "circle", "filled": false, "color": "#0000ff", "strokeWidth": 1.3, "size": 80, "opacity": 1},
          "encoding": {
            "x": {"field": "day", "type": "quantitative", "scale": {"domain": [1, 11], "range": [62.2, 610.5], "nice": false, "zero": false}, "axis": null},
            "y": {"field": "ppb", "type": "quantitative", "scale": {"domain": [0, 4], "range": [355.8, 48.5], "nice": false}, "axis": null}
          }
        },
        {
          "transform": [{"filter": "datum.series == 'B'"}],
          "mark": {"type": "line", "color": "#99cc00", "strokeWidth": 2},
          "encoding": {
            "x": {"field": "day", "type": "quantitative", "scale": {"domain": [1, 11], "range": [62.2, 610.5], "nice": false, "zero": false}, "axis": null},
            "y": {"field": "ppb", "type": "quantitative", "scale": {"domain": [0, 4], "range": [355.8, 48.5], "nice": false}, "axis": null},
            "detail": {"field": "seg"}
          }
        },
        {
          "transform": [{"filter": "datum.series == 'B'"}],
          "mark": {"type": "point", "shape": "square", "filled": true, "color": "#99cc00", "size": 72, "opacity": 1},
          "encoding": {
            "x": {"field": "day", "type": "quantitative", "scale": {"domain": [1, 11], "range": [62.2, 610.5], "nice": false, "zero": false}, "axis": null},
            "y": {"field": "ppb", "type": "quantitative", "scale": {"domain": [0, 4], "range": [355.8, 48.5], "nice": false}, "axis": null}
          }
        },
        {
          "transform": [{"filter": "datum.series == 'B'"}],
          "mark": {"type": "point", "shape": "M-1,-1L1,1M1,-1L-1,1", "filled": false, "color": "#333300", "strokeWidth": 1.5, "size": 60, "opacity": 1},
          "encoding": {
            "x": {"field": "day", "type": "quantitative", "scale": {"domain": [1, 11], "range": [62.2, 610.5], "nice": false, "zero": false},
              "axis": {"orient": "bottom", "offset": -109.7, "values": [1,2,3,4,5,6,7,8,9,10], "tickSize": -5, "labels": false, "domain": false, "title": null}},
            "y": {"field": "ppb", "type": "quantitative", "scale": {"domain": [0, 4], "range": [355.8, 48.5], "nice": false},
              "axis": {"orient": "left", "offset": -62.2, "values": [1,2,3,4], "tickSize": -7, "labels": false, "domain": false, "title": null}}
          }
        }
      ],
      "resolve": {"scale": {"x": "independent", "y": "independent"}, "axis": {"x": "independent", "y": "independent"}}
    },
    {
      "width": 662, "height": 474,
      "data": {"name": "p2"},
      "layer": [
        {
          "transform": [{"filter": "false"}],
          "mark": {"type": "point", "opacity": 0},
          "encoding": {
            "x": {"field": "day", "type": "quantitative", "scale": {"domain": [0, 1], "nice": false, "zero": false},
              "axis": {"orient": "top", "offset": 0, "domainWidth": 3, "ticks": false, "labels": false, "title": null}},
            "y": {"field": "ppb", "type": "quantitative", "scale": {"domain": [0, 1], "nice": false, "zero": false},
              "axis": {"orient": "left", "offset": 0, "domainWidth": 3, "ticks": false, "labels": false, "title": null}}
          }
        },
        {
          "transform": [{"filter": "datum.series == 'A'"}],
          "mark": {"type": "line", "color": "#000080", "strokeWidth": 2},
          "encoding": {
            "x": {"field": "day", "type": "quantitative", "scale": {"domain": [11, 21], "range": [62.2, 610.5], "nice": false, "zero": false},
              "axis": {"orient": "bottom", "offset": -113.7, "values": [11,11.5,12,12.5,13,13.5,14,14.5,15,15.5,16,16.5,17,17.5,18,18.5,19,19.5,20,20.5],
                "labelExpr": "datum.value % 1 != 0 ? '' : [datum.value + '-', 'May']",
                "tickSize": {"condition": {"test": "datum.value % 1 == 0", "value": 6}, "value": 4},
                "labelPadding": 11, "labelLineHeight": 21,
                "title": "Hours (date mark = 0000 EST)", "titleBaseline": "alphabetic", "titleY": 80}},
            "y": {"field": "ppb", "type": "quantitative", "scale": {"domain": [0, 4], "range": [360.3, 54.7], "nice": false},
              "axis": {"orient": "left", "offset": -62.2, "values": [0,0.5,1,1.5,2,2.5,3,3.5,4],
                "labelExpr": "datum.value % 1 == 0 ? '' + datum.value : ''",
                "tickSize": {"condition": {"test": "datum.value % 1 == 0", "value": 6}, "value": 4.5},
                "labelPadding": 6, "title": "Ethene (ppb)", "titleFontSize": 15, "titleX": -44.7, "titleBaseline": "middle"}},
            "detail": {"field": "seg"}
          }
        },
        {
          "transform": [{"filter": "datum.series == 'A'"}],
          "mark": {"type": "point", "shape": "circle", "filled": false, "color": "#0000ff", "strokeWidth": 1.3, "size": 58, "opacity": 1},
          "encoding": {
            "x": {"field": "day", "type": "quantitative", "scale": {"domain": [11, 21], "range": [62.2, 610.5], "nice": false, "zero": false}, "axis": null},
            "y": {"field": "ppb", "type": "quantitative", "scale": {"domain": [0, 4], "range": [360.3, 54.7], "nice": false}, "axis": null}
          }
        },
        {
          "transform": [{"filter": "datum.series == 'B'"}],
          "mark": {"type": "line", "color": "#99cc00", "strokeWidth": 2},
          "encoding": {
            "x": {"field": "day", "type": "quantitative", "scale": {"domain": [11, 21], "range": [62.2, 610.5], "nice": false, "zero": false}, "axis": null},
            "y": {"field": "ppb", "type": "quantitative", "scale": {"domain": [0, 4], "range": [360.3, 54.7], "nice": false}, "axis": null},
            "detail": {"field": "seg"}
          }
        },
        {
          "transform": [{"filter": "datum.series == 'B'"}],
          "mark": {"type": "point", "shape": "square", "filled": true, "color": "#99cc00", "size": 20, "opacity": 1},
          "encoding": {
            "x": {"field": "day", "type": "quantitative", "scale": {"domain": [11, 21], "range": [62.2, 610.5], "nice": false, "zero": false}, "axis": null},
            "y": {"field": "ppb", "type": "quantitative", "scale": {"domain": [0, 4], "range": [360.3, 54.7], "nice": false}, "axis": null}
          }
        },
        {
          "transform": [{"filter": "datum.series == 'B'"}],
          "mark": {"type": "point", "shape": "M-1,-1L1,1M1,-1L-1,1", "filled": false, "color": "#333300", "strokeWidth": 1.2, "size": 18, "opacity": 1},
          "encoding": {
            "x": {"field": "day", "type": "quantitative", "scale": {"domain": [11, 21], "range": [62.2, 610.5], "nice": false, "zero": false},
              "axis": {"orient": "bottom", "offset": -113.7, "values": [11,12,13,14,15,16,17,18,19,20], "tickSize": -5, "labels": false, "domain": false, "title": null}},
            "y": {"field": "ppb", "type": "quantitative", "scale": {"domain": [0, 4], "range": [360.3, 54.7], "nice": false},
              "axis": {"orient": "left", "offset": -62.2, "values": [1,2,3,4], "tickSize": -7, "labels": false, "domain": false, "title": null}}
          }
        }
      ],
      "resolve": {"scale": {"x": "independent", "y": "independent"}, "axis": {"x": "independent", "y": "independent"}}
    },
    {
      "width": 662, "height": 465.5,
      "data": {"name": "p3"},
      "layer": [
        {
          "transform": [{"filter": "false"}],
          "mark": {"type": "point", "opacity": 0},
          "encoding": {
            "x": {"field": "day", "type": "quantitative", "scale": {"domain": [0, 1], "nice": false, "zero": false},
              "axis": {"orient": "top", "offset": 0, "domainWidth": 3, "ticks": false, "labels": false, "title": null}},
            "y": {"field": "ppb", "type": "quantitative", "scale": {"domain": [0, 1], "nice": false, "zero": false},
              "axis": {"orient": "left", "offset": 0, "domainWidth": 3, "ticks": false, "labels": false, "title": null}}
          }
        },
        {
          "transform": [{"filter": "datum.series == 'A'"}],
          "mark": {"type": "line", "color": "#000080", "strokeWidth": 2},
          "encoding": {
            "x": {"field": "day", "type": "quantitative", "scale": {"domain": [21, 32], "range": [57.2, 621.5], "nice": false, "zero": false},
              "axis": {"orient": "bottom", "offset": -108.5, "values": [21,21.5,22,22.5,23,23.5,24,24.5,25,25.5,26,26.5,27,27.5,28,28.5,29,29.5,30,30.5,31,31.5],
                "labelExpr": "datum.value % 1 != 0 ? '' : [datum.value + '-', 'May']",
                "tickSize": {"condition": {"test": "datum.value % 1 == 0", "value": 6}, "value": 4},
                "labelPadding": 11, "labelLineHeight": 21,
                "title": "Hours (date mark = 0000 EST)", "titleBaseline": "alphabetic", "titleY": 78}},
            "y": {"field": "ppb", "type": "quantitative", "scale": {"domain": [0, 4], "range": [357, 50.7], "nice": false},
              "axis": {"orient": "left", "offset": -57.2, "values": [0,0.5,1,1.5,2,2.5,3,3.5,4],
                "labelExpr": "datum.value % 1 == 0 ? '' + datum.value : ''",
                "tickSize": {"condition": {"test": "datum.value % 1 == 0", "value": 6}, "value": 4.5},
                "labelPadding": 6, "title": "Ethene (ppb)", "titleFontSize": 17.5, "titleX": -37.7, "titleBaseline": "middle"}},
            "detail": {"field": "seg"}
          }
        },
        {
          "transform": [{"filter": "datum.series == 'A'"}],
          "mark": {"type": "point", "shape": "circle", "filled": false, "color": "#0000ff", "strokeWidth": 1.3, "size": 58, "opacity": 1},
          "encoding": {
            "x": {"field": "day", "type": "quantitative", "scale": {"domain": [21, 32], "range": [57.2, 621.5], "nice": false, "zero": false}, "axis": null},
            "y": {"field": "ppb", "type": "quantitative", "scale": {"domain": [0, 4], "range": [357, 50.7], "nice": false}, "axis": null}
          }
        },
        {
          "transform": [{"filter": "datum.series == 'B'"}],
          "mark": {"type": "line", "color": "#99cc00", "strokeWidth": 2},
          "encoding": {
            "x": {"field": "day", "type": "quantitative", "scale": {"domain": [21, 32], "range": [57.2, 621.5], "nice": false, "zero": false}, "axis": null},
            "y": {"field": "ppb", "type": "quantitative", "scale": {"domain": [0, 4], "range": [357, 50.7], "nice": false}, "axis": null},
            "detail": {"field": "seg"}
          }
        },
        {
          "transform": [{"filter": "datum.series == 'B'"}],
          "mark": {"type": "point", "shape": "square", "filled": true, "color": "#99cc00", "size": 20, "opacity": 1},
          "encoding": {
            "x": {"field": "day", "type": "quantitative", "scale": {"domain": [21, 32], "range": [57.2, 621.5], "nice": false, "zero": false}, "axis": null},
            "y": {"field": "ppb", "type": "quantitative", "scale": {"domain": [0, 4], "range": [357, 50.7], "nice": false}, "axis": null}
          }
        },
        {
          "transform": [{"filter": "datum.series == 'B'"}],
          "mark": {"type": "point", "shape": "M-1,-1L1,1M1,-1L-1,1", "filled": false, "color": "#333300", "strokeWidth": 1.2, "size": 18, "opacity": 1},
          "encoding": {
            "x": {"field": "day", "type": "quantitative", "scale": {"domain": [21, 32], "range": [57.2, 621.5], "nice": false, "zero": false},
              "axis": {"orient": "bottom", "offset": -108.5, "values": [21,22,23,24,25,26,27,28,29,30,31], "tickSize": -5, "labels": false, "domain": false, "title": null}},
            "y": {"field": "ppb", "type": "quantitative", "scale": {"domain": [0, 4], "range": [357, 50.7], "nice": false},
              "axis": {"orient": "left", "offset": -57.2, "values": [1,2,3,4], "tickSize": -7, "labels": false, "domain": false, "title": null}}
          }
        }
      ],
      "resolve": {"scale": {"x": "independent", "y": "independent"}, "axis": {"x": "independent", "y": "independent"}}
    }
  ]
}
